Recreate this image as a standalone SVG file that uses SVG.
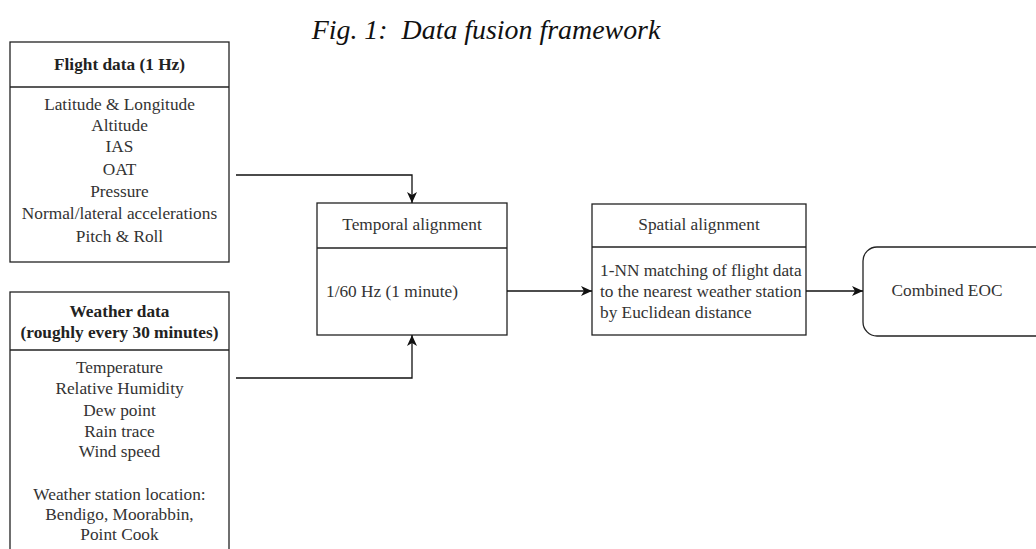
<svg xmlns="http://www.w3.org/2000/svg" width="1036" height="549" viewBox="0 0 1036 549">
<defs>
<style>
.box{fill:#fff;stroke:#222;stroke-width:1.3}
.t{font-family:"Liberation Serif","Times New Roman",serif;font-size:17.3px;fill:#333}
.c{text-anchor:middle}
.b{font-weight:bold;fill:#222}
.ttl{font-family:"Liberation Serif","Times New Roman",serif;font-size:27.9px;font-style:italic;fill:#111;text-anchor:middle}
.ln{fill:none;stroke:#111;stroke-width:1.3}
</style>
<marker id="ah" markerWidth="12" markerHeight="12" refX="11" refY="6" orient="auto" markerUnits="userSpaceOnUse">
<path d="M0,1 L11,6 L0,11 L3,6 Z" fill="#111"/>
</marker>
</defs>
<rect width="1036" height="549" fill="#fff"/>
<text class="ttl" x="486" y="39" xml:space="preserve">Fig. 1:  Data fusion framework</text>

<g id="flight">
<rect class="box" x="10" y="42" width="219" height="220"/>
<line class="box" x1="10" y1="87" x2="229" y2="87"/>
<text class="t c b" x="119.5" y="70">Flight data (1 Hz)</text>
<text class="t c" x="119.5" y="110">Latitude &amp; Longitude</text>
<text class="t c" x="119.5" y="131">Altitude</text>
<text class="t c" x="119.5" y="152">IAS</text>
<text class="t c" x="119.5" y="175">OAT</text>
<text class="t c" x="119.5" y="197">Pressure</text>
<text class="t c" x="119.5" y="219">Normal/lateral accelerations</text>
<text class="t c" x="119.5" y="242">Pitch &amp; Roll</text>
</g>

<g id="weather">
<rect class="box" x="10" y="292" width="219" height="270"/>
<line class="box" x1="10" y1="350" x2="229" y2="350"/>
<text class="t c b" x="119.5" y="317">Weather data</text>
<text class="t c b" x="119.5" y="338">(roughly every 30 minutes)</text>
<text class="t c" x="119.5" y="373">Temperature</text>
<text class="t c" x="119.5" y="394">Relative Humidity</text>
<text class="t c" x="119.5" y="416">Dew point</text>
<text class="t c" x="119.5" y="437">Rain trace</text>
<text class="t c" x="119.5" y="457">Wind speed</text>
<text class="t c" x="119.5" y="500">Weather station location:</text>
<text class="t c" x="119.5" y="520">Bendigo, Moorabbin,</text>
<text class="t c" x="119.5" y="540">Point Cook</text>
</g>

<g id="temporal">
<rect class="box" x="317" y="203" width="190" height="132"/>
<line class="box" x1="317" y1="248" x2="507" y2="248"/>
<text class="t c" x="412" y="230">Temporal alignment</text>
<text class="t" x="326" y="297">1/60 Hz (1 minute)</text>
</g>

<g id="spatial">
<rect class="box" x="592" y="204" width="214" height="131"/>
<line class="box" x1="592" y1="247" x2="806" y2="247"/>
<text class="t c" x="699" y="230">Spatial alignment</text>
<text class="t" x="600" y="276">1-NN matching of flight data</text>
<text class="t" x="600" y="297">to the nearest weather station</text>
<text class="t" x="600" y="318">by Euclidean distance</text>
</g>

<g id="eoc">
<rect class="box" x="863" y="247" width="200" height="89" rx="14" ry="14"/>
<text class="t c" x="947" y="296">Combined EOC</text>
</g>

<g id="connectors">
<path class="ln" d="M236,175 H412 V203" marker-end="url(#ah)"/>
<path class="ln" d="M236,378 H412 V335" marker-end="url(#ah)"/>
<path class="ln" d="M507,291 H592" marker-end="url(#ah)"/>
<path class="ln" d="M806,291 H863" marker-end="url(#ah)"/>
</g>
</svg>
